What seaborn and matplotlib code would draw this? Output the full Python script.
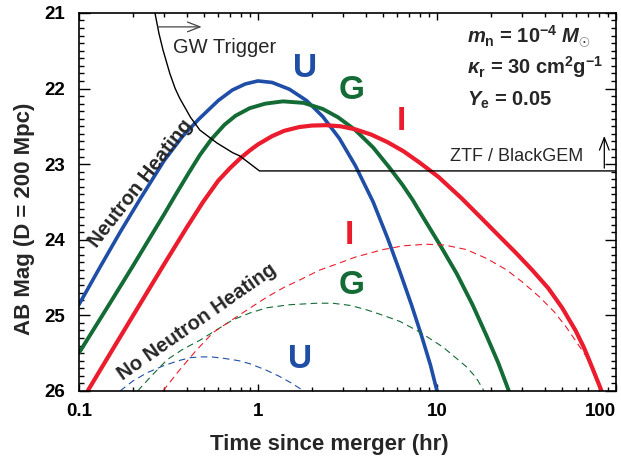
import numpy as np
import matplotlib
matplotlib.use("Agg")
import matplotlib.pyplot as plt
import seaborn as sns
from matplotlib.ticker import FixedLocator, LogLocator, MultipleLocator, NullFormatter

# ---- data (time in hr, AB mag) ----
# with neutron heating (solid)
t_u = [0.1, 0.13, 0.17, 0.22, 0.3, 0.38, 0.47, 0.6, 0.72, 0.85, 1.0, 1.2, 1.5, 1.87,
       2.3, 2.85, 3.5, 4.4, 5.3, 6.2, 7.2, 8.2, 9.2, 10.0]
m_u = [24.86, 24.38, 23.9, 23.46, 22.95, 22.63, 22.4, 22.16, 22.02, 21.94, 21.9, 21.92,
       22.01, 22.16, 22.37, 22.66, 23.02, 23.5, 23.98, 24.42, 24.86, 25.27, 25.66, 26.0]

t_g = [0.1, 0.15, 0.2, 0.25, 0.3, 0.35, 0.41, 0.474, 0.55, 0.65, 0.75, 0.9, 1.1, 1.38,
       1.8, 2.3, 2.8, 3.5, 4.4, 5.4, 6.4, 7.3, 8.4, 10.4, 12.9, 15.8, 19.0, 22.0, 25.2]
m_g = [25.5, 24.83, 24.35, 23.97, 23.66, 23.39, 23.12, 22.88, 22.67, 22.48, 22.36, 22.26,
       22.2, 22.17, 22.19, 22.27, 22.38, 22.55, 22.78, 23.04, 23.27, 23.47, 23.71, 24.07,
       24.45, 24.86, 25.28, 25.63, 26.0]

t_i = [0.112, 0.15, 0.2, 0.25, 0.3, 0.4, 0.494, 0.6, 0.7, 0.8, 0.9, 1.0, 1.2, 1.4, 1.7,
       2.0, 2.4, 2.9, 3.5, 4.3, 5.3, 6.5, 8.0, 10.2, 13.7, 17.8, 22, 27.5, 34, 41.8, 50,
       59.4, 66, 73.3, 78, 83]
m_i = [26.0, 25.5, 25.01, 24.63, 24.32, 23.84, 23.5, 23.22, 23.05, 22.92, 22.82, 22.74,
       22.63, 22.56, 22.51, 22.49, 22.485, 22.5, 22.54, 22.61, 22.71, 22.83, 22.98, 23.17,
       23.45, 23.72, 23.94, 24.17, 24.4, 24.64, 24.9, 25.2, 25.42, 25.68, 25.84, 26.0]

# without neutron heating (dashed)
t_u0 = [0.17, 0.2, 0.24, 0.295, 0.36, 0.42, 0.474, 0.55, 0.65, 0.78, 0.9, 1.1, 1.3, 1.55, 1.8]
m_u0 = [26.0, 25.87, 25.76, 25.67, 25.6, 25.56, 25.55, 25.55, 25.57, 25.6, 25.64, 25.72,
        25.8, 25.9, 26.0]

t_g0 = [0.213, 0.25, 0.31, 0.38, 0.474, 0.58, 0.724, 0.9, 1.12, 1.5, 2.13, 2.62, 3.3,
        4.08, 5.0, 6.2, 8.0, 10.8, 14.6, 16.5, 18.3]
m_g0 = [26.0, 25.82, 25.59, 25.45, 25.33, 25.2, 25.06, 24.97, 24.9, 24.86, 24.84, 24.84,
        24.87, 24.93, 25.0, 25.08, 25.22, 25.42, 25.68, 25.82, 26.0]

t_i0 = [0.295, 0.366, 0.45, 0.56, 0.76, 0.95, 1.12, 1.4, 1.72, 2.22, 2.62, 3.5, 5.0, 6.5,
        8.7, 11, 14.6, 19, 24.5, 30, 37.5, 45, 52.5, 60, 68.5, 75, 82]
m_i0 = [26.0, 25.72, 25.47, 25.23, 25.02, 24.87, 24.76, 24.63, 24.53, 24.4, 24.34, 24.23,
        24.13, 24.08, 24.06, 24.07, 24.13, 24.25, 24.4, 24.56, 24.76, 24.95, 25.15, 25.35,
        25.55, 25.77, 25.99]

# GW trigger + ZTF/BlackGEM limit
t_lim = [0.266, 0.28, 0.295, 0.322, 0.345, 0.366, 0.42, 0.474, 0.59, 0.724, 0.79, 1.02, 100]
m_lim = [21.0, 21.27, 21.49, 21.8, 22.0, 22.13, 22.38, 22.55, 22.72, 22.85, 22.89, 23.09, 23.09]

x_ticks = [0.1, 1, 10, 100]
x_ticklabels = ["0.1", "1", "10", "100"]
y_ticks = [21, 22, 23, 24, 25, 26]

blue = "#1f4ea6"
green = "#146b35"
red = "#eb1c2d"

# ---- style ----
sns.set_style("ticks")
plt.rcParams["font.family"] = ["Liberation Sans", "DejaVu Sans"]
plt.rcParams["font.weight"] = "bold"
plt.rcParams["mathtext.fontset"] = "custom"
plt.rcParams["mathtext.rm"] = "Liberation Sans:bold"
plt.rcParams["mathtext.bf"] = "Liberation Sans:bold"
plt.rcParams["mathtext.it"] = "Liberation Sans:italic:bold"

fig = plt.figure(figsize=(6.21, 4.61), dpi=100)
ax = fig.add_axes([0.127, 0.152, 0.865, 0.820])

# solid curves
sns.lineplot(x=t_u, y=m_u, ax=ax, color=blue, lw=2.6)
sns.lineplot(x=t_g, y=m_g, ax=ax, color=green, lw=2.8)
sns.lineplot(x=t_i, y=m_i, ax=ax, color=red, lw=3.0)
# dashed curves
for tt, mm, c in [(t_u0, m_u0, blue), (t_g0, m_g0, green), (t_i0, m_i0, red)]:
    sns.lineplot(x=tt, y=mm, ax=ax, color=c, lw=0.8)
    ax.lines[-1].set_dashes([6, 4])
# limit line
sns.lineplot(x=t_lim, y=m_lim, ax=ax, color="black", lw=1.0)

ax.set_xscale("log")
ax.set_xlim(0.1, 100)
ax.set_ylim(26, 21)

# ticks
ax.xaxis.set_major_locator(FixedLocator(x_ticks))
lbls = ax.set_xticklabels(x_ticklabels)
lbls[-1].set_horizontalalignment("right")
ax.xaxis.set_minor_locator(LogLocator(base=10, subs=np.arange(2, 10)))
ax.xaxis.set_minor_formatter(NullFormatter())
ax.set_yticks(y_ticks)
ax.yaxis.set_minor_locator(MultipleLocator(0.1))
ax.tick_params(which="both", direction="in", top=True, right=True, width=1.0,
               labelsize=13.5, colors="black")
ax.tick_params(axis="x", which="major", length=5, pad=9)
ax.tick_params(axis="x", which="minor", length=3)
ax.tick_params(axis="y", which="major", length=8, pad=10)
ax.tick_params(axis="y", which="minor", length=3.5)
for s in ax.spines.values():
    s.set_linewidth(1.2)
    s.set_color("black")

ax.set_xlabel("Time since merger (hr)", fontsize=16, fontweight="bold")
ax.set_ylabel("AB Mag (D = 200 Mpc)", fontsize=16, fontweight="bold")
ax.xaxis.set_label_coords(0.466, -0.142)
ax.xaxis.label.set_va("center")
ax.yaxis.set_label_coords(-0.102, 0.455)
ax.yaxis.label.set_va("center")

# band labels
big = dict(fontsize=24, fontweight="bold", ha="center", va="center")
ax.text(1.84, 21.73, "U", color=blue, **big)
ax.text(3.32, 22.02, "G", color=green, **big)
ax.text(6.30, 22.43, "I", color=red, **big)
ax.text(3.23, 23.94, "I", color=red, **big)
ax.text(3.32, 24.61, "G", color=green, **big)
ax.text(1.72, 25.59, "U", color=blue, **big)

ax.text(0.222, 23.25, "Neutron Heating", fontsize=14.5, fontweight="bold",
        rotation=52, ha="center", va="center", rotation_mode="anchor")
ax.text(0.454, 25.09, "No Neutron Heating", fontsize=14.5, fontweight="bold",
        rotation=35, ha="center", va="center", rotation_mode="anchor")

ax.text(0.651, 21.46, "GW Trigger", fontsize=14.5, fontweight="normal",
        ha="center", va="center")
ax.annotate("", xy=(0.503, 21.185), xytext=(0.266, 21.185),
            arrowprops=dict(arrowstyle="->,head_length=0.9,head_width=0.35",
                            color="#444444", lw=0.9))
ax.text(27.9, 22.905, "ZTF / BlackGEM", fontsize=13, fontweight="normal",
        ha="center", va="center")
ax.annotate("", xy=(86, 22.59), xytext=(86, 23.09),
            arrowprops=dict(arrowstyle="->,head_length=0.9,head_width=0.35",
                            color="black", lw=0.9))

# model parameters
par = dict(transform=ax.transAxes, fontsize=14.5, fontweight="bold", ha="left",
           va="baseline")
ax.text(0.7225, 0.921, r"$m_{\mathrm{n}}$ = 10$^{\mathrm{-4}}$ $M_{\odot}$", **par)
ax.text(0.7225, 0.839, r"$\kappa_{\mathrm{r}}$ = 30 cm$^{\mathrm{2}}$g$^{\mathrm{-1}}$", **par)
ax.text(0.7225, 0.754, r"$Y_{\mathrm{e}}$ = 0.05", **par)

fig.savefig("out.png", dpi=100)
